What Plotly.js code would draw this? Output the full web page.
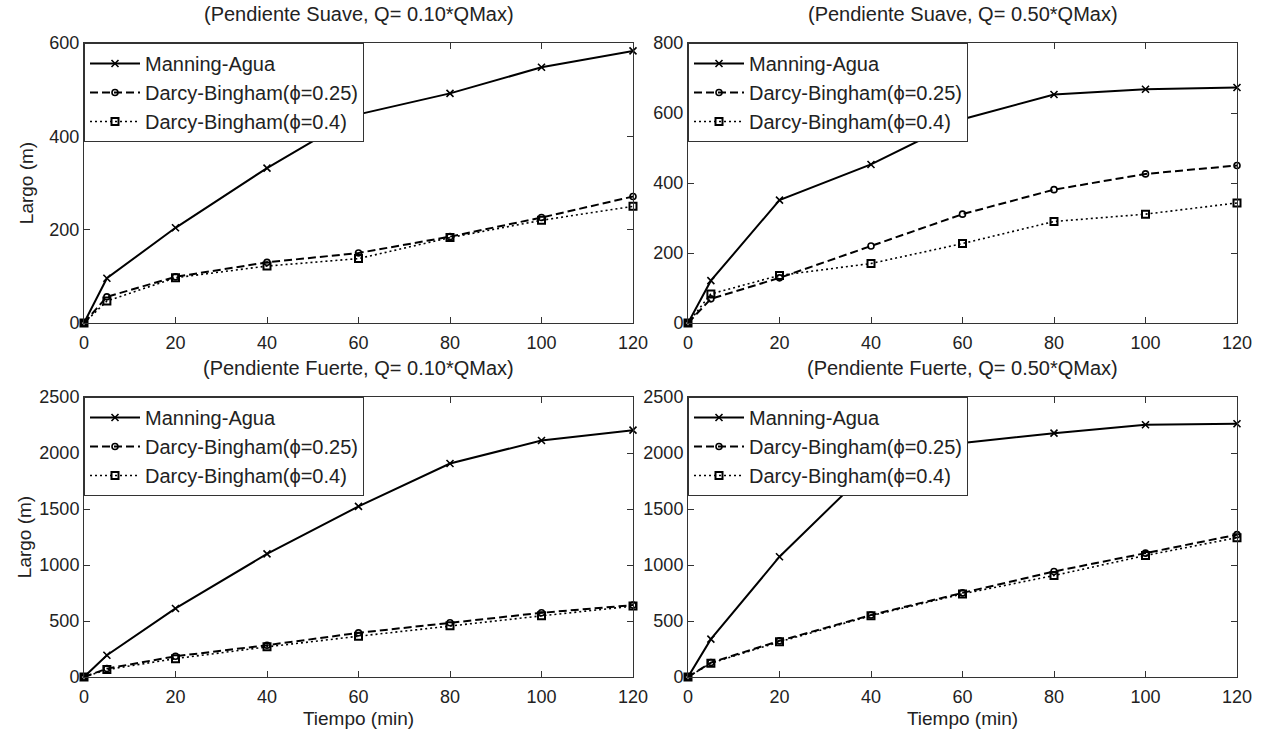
<!DOCTYPE html>
<html>
<head>
<meta charset="utf-8">
<script src="https://cdn.plot.ly/plotly-3.0.1.min.js"></script>
<style>html,body{margin:0;padding:0;background:#fff;}#chart{width:1265px;height:734px;}</style>
</head>
<body>
<div id="chart"></div>
<script>
// Time (min)
const tiempo = [0, 5, 20, 40, 60, 80, 100, 120];

// Pendiente Suave, Q = 0.10*QMax
const suave010Manning = [0, 96, 204, 332, 447, 492, 548, 583];
const suave010DB025   = [0, 56, 99, 130, 150, 185, 226, 271];
const suave010DB04    = [0, 47, 97, 122, 138, 183, 220, 250];

// Pendiente Suave, Q = 0.50*QMax
const suave050Manning = [0, 121, 351, 453, 582, 653, 668, 673];
const suave050DB025   = [0, 69, 129, 220, 311, 381, 426, 450];
const suave050DB04    = [0, 83, 136, 170, 227, 290, 311, 343];

// Pendiente Fuerte, Q = 0.10*QMax
const fuerte010Manning = [0, 194, 612, 1099, 1523, 1906, 2112, 2204];
const fuerte010DB025   = [0, 75, 185, 284, 394, 484, 573, 642];
const fuerte010DB04    = [0, 66, 164, 269, 364, 457, 546, 633];

// Pendiente Fuerte, Q = 0.50*QMax
const fuerte050Manning = [0, 338, 1074, 1870, 2090, 2177, 2252, 2261];
const fuerte050DB025   = [0, 129, 323, 553, 751, 942, 1106, 1271];
const fuerte050DB04    = [0, 123, 314, 547, 742, 906, 1085, 1244];

const seriesNames = ['Manning-Agua', 'Darcy-Bingham(\u03d5=0.25)', 'Darcy-Bingham(\u03d5=0.4)'];
const panelTitles = [
  '(Pendiente Suave, Q= 0.10*QMax)',
  '(Pendiente Suave, Q= 0.50*QMax)',
  '(Pendiente Fuerte, Q= 0.10*QMax)',
  '(Pendiente Fuerte, Q= 0.50*QMax)'
];
const yTicks = [
  [0, 200, 400, 600],
  [0, 200, 400, 600, 800],
  [0, 500, 1000, 1500, 2000, 2500],
  [0, 500, 1000, 1500, 2000, 2500]
];
const xTicks = [0, 20, 40, 60, 80, 100, 120];
const panels = [
  [suave010Manning, suave010DB025, suave010DB04],
  [suave050Manning, suave050DB025, suave050DB04],
  [fuerte010Manning, fuerte010DB025, fuerte010DB04],
  [fuerte050Manning, fuerte050DB025, fuerte050DB04]
];

const W = 1265, H = 734;
const FONT = 'Liberation Sans, Arial, sans-serif';
const TXT = '#222';
// pixel boxes [left, right, top, bottom]
const boxes = [
  [84, 633, 43, 323],
  [688, 1237, 43, 323],
  [84, 633, 397, 677],
  [688, 1237, 397, 677]
];

const styles = [
  {dash: 'solid', width: 2, symbol: 'x-thin-open', size: 7, mw: 1.6},
  {dash: '8px,4px', width: 2, symbol: 'circle-open', size: 6, mw: 1.6},
  {dash: '2px,3px', width: 1.6, symbol: 'square-open', size: 7, mw: 2}
];

const traces = [];
const layout = {
  width: W, height: H,
  margin: {l: 0, r: 0, t: 0, b: 0},
  paper_bgcolor: '#fff', plot_bgcolor: '#fff',
  showlegend: true,
  font: {family: FONT, size: 18, color: TXT},
  annotations: []
};

panels.forEach((p, i) => {
  const n = i + 1;
  const xa = 'xaxis' + (n === 1 ? '' : n);
  const ya = 'yaxis' + (n === 1 ? '' : n);
  const lg = 'legend' + (n === 1 ? '' : n);
  const b = boxes[i];
  const xd = [b[0] / W, b[1] / W];
  const yd = [(H - b[3]) / H, (H - b[2]) / H];
  const ymax = yTicks[i][yTicks[i].length - 1];

  p.forEach((vals, k) => {
    const s = styles[k];
    traces.push({
      type: 'scatter', mode: 'lines+markers',
      x: tiempo, y: vals,
      name: seriesNames[k],
      xaxis: 'x' + (n === 1 ? '' : n), yaxis: 'y' + (n === 1 ? '' : n),
      legend: lg, legendgroup: 'g' + n + '_' + k,
      cliponaxis: false,
      line: {color: '#000', width: s.width, dash: s.dash},
      marker: {symbol: s.symbol, size: s.size, color: '#000', line: {color: '#000', width: s.mw}}
    });
  });

  layout[xa] = {
    domain: xd, anchor: 'y' + (n === 1 ? '' : n),
    range: [0, 120], tickvals: xTicks, ticktext: xTicks.map(String),
    showgrid: false, zeroline: false,
    showline: true, mirror: 'ticks', linecolor: '#333', linewidth: 1,
    ticks: 'inside', ticklen: 6, tickcolor: '#333', tickwidth: 1,
    tickfont: {family: FONT, size: 18, color: TXT},
    ticklabelstandoff: 3,
    fixedrange: true
  };
  if (i >= 2) {
    layout[xa].title = {text: 'Tiempo (min)', font: {family: FONT, size: 19, color: TXT}, standoff: 6};
  }
  layout[ya] = {
    domain: yd, anchor: 'x' + (n === 1 ? '' : n),
    range: [0, ymax], tickvals: yTicks[i], ticktext: yTicks[i].map(String),
    showgrid: false, zeroline: false,
    showline: true, mirror: 'ticks', linecolor: '#333', linewidth: 1,
    ticks: 'inside', ticklen: 6, tickcolor: '#333', tickwidth: 1,
    tickfont: {family: FONT, size: 18, color: TXT},
    fixedrange: true
  };
  if (i === 0 || i === 2) {
    layout[ya].title = {text: 'Largo (m)', font: {family: FONT, size: 19, color: TXT}, standoff: i === 0 ? 10 : 2};
  }
  layout[lg] = {
    x: xd[0], y: yd[1], xanchor: 'left', yanchor: 'top',
    xref: 'paper', yref: 'paper',
    bgcolor: '#fff', bordercolor: '#333', borderwidth: 1,
    font: {family: FONT, size: 20, color: TXT},
    itemwidth: 50, tracegroupgap: 8,
    traceorder: 'normal'
  };
  layout.annotations.push({
    text: panelTitles[i], xref: 'paper', yref: 'paper',
    x: (xd[0] + xd[1]) / 2, y: (H - (b[2] - 29)) / H,
    xanchor: 'center', yanchor: 'middle', showarrow: false,
    font: {family: FONT, size: 20, color: TXT}
  });
});

Plotly.newPlot('chart', traces, layout, {displayModeBar: false, staticPlot: true});
</script>
</body>
</html>
